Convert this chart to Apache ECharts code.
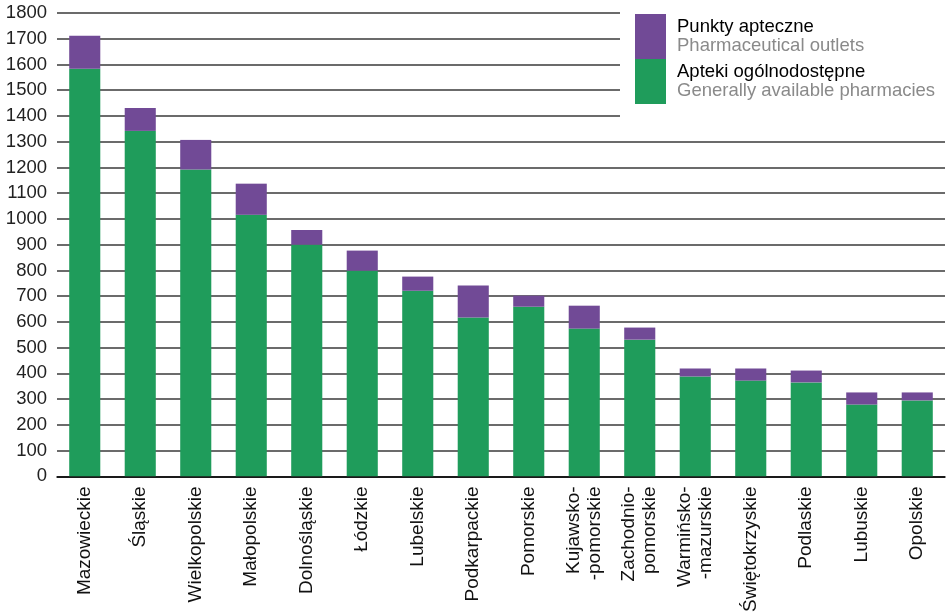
<!DOCTYPE html>
<html>
<head>
<meta charset="utf-8">
<script src="https://cdn.jsdelivr.net/npm/echarts@6/dist/echarts.min.js"></script>
<style>html,body{margin:0;padding:0;background:#fff}#c{width:946px;height:615px}</style>
</head>
<body>
<div id="c"></div>
<script>
const categories = ['Mazowieckie','Śląskie','Wielkopolskie','Małopolskie','Dolnośląskie','Łódzkie','Lubelskie','Podkarpackie','Pomorskie','Kujawsko-\n-pomorskie','Zachodnio-\npomorskie','Warmińsko-\n-mazurskie','Świętokrzyskie','Podlaskie','Lubuskie','Opolskie'];
const pharmacies = [1583,1342,1192,1016,900,799,721,617,659,574,531,388,372,365,279,295];
const outlets = [129,89,115,121,57,78,55,124,43,89,47,31,47,46,47,31];
const yTicks = {min:0, max:1800, interval:100};
const names = {
  outlets: ['Punkty apteczne','Pharmaceutical outlets'],
  pharmacies: ['Apteki ogólnodostępne','Generally available pharmacies']
};

const font = "'Liberation Sans', Arial, sans-serif";
const chart = echarts.init(document.getElementById('c'), null, {renderer:'canvas'});
chart.setOption({
  animation:false,
  textStyle:{fontFamily:font},
  grid:{left:57, right:1, top:13, bottom:138, containLabel:false},
  legend:{
    orient:'vertical', left:620, top:0,
    padding:[14,10,14,15], backgroundColor:'#fff',
    itemWidth:31, itemHeight:45, itemGap:0,
    icon:'rect',
    data:[names.outlets[0], names.pharmacies[0]],
    formatter:function(n){
      const sub = n===names.outlets[0]?names.outlets[1]:names.pharmacies[1];
      return '{a|'+n+'}\n{b|'+sub+'}';
    },
    textStyle:{
      padding:[0,0,0,6],
      rich:{
        a:{fontSize:18.5, color:'#000', lineHeight:18.5, fontFamily:font},
        b:{fontSize:18.5, color:'#8a8a8a', lineHeight:18.5, fontFamily:font}
      }
    }
  },
  xAxis:{
    type:'category', data:categories,
    axisLine:{lineStyle:{color:'#000', width:1.5}},
    axisTick:{show:false},
    axisLabel:{rotate:90, margin:10, fontSize:19, color:'#111', lineHeight:21, fontFamily:font, interval:0}
  },
  yAxis:{
    type:'value', min:yTicks.min, max:yTicks.max, interval:yTicks.interval,
    axisLine:{show:false}, axisTick:{show:false},
    axisLabel:{fontSize:18.5, color:'#222', margin:10, fontFamily:font, formatter:function(v){return String(v);}},
    splitLine:{lineStyle:{color:'#3a3a3a', width:1.5}}
  },
  series:[
    {name:names.pharmacies[0], type:'bar', stack:'s', data:pharmacies, barWidth:'56%', itemStyle:{color:'#1f9c5b'}},
    {name:names.outlets[0], type:'bar', stack:'s', data:outlets, barWidth:'56%', itemStyle:{color:'#714a96'}}
  ]
});
</script>
</body>
</html>
